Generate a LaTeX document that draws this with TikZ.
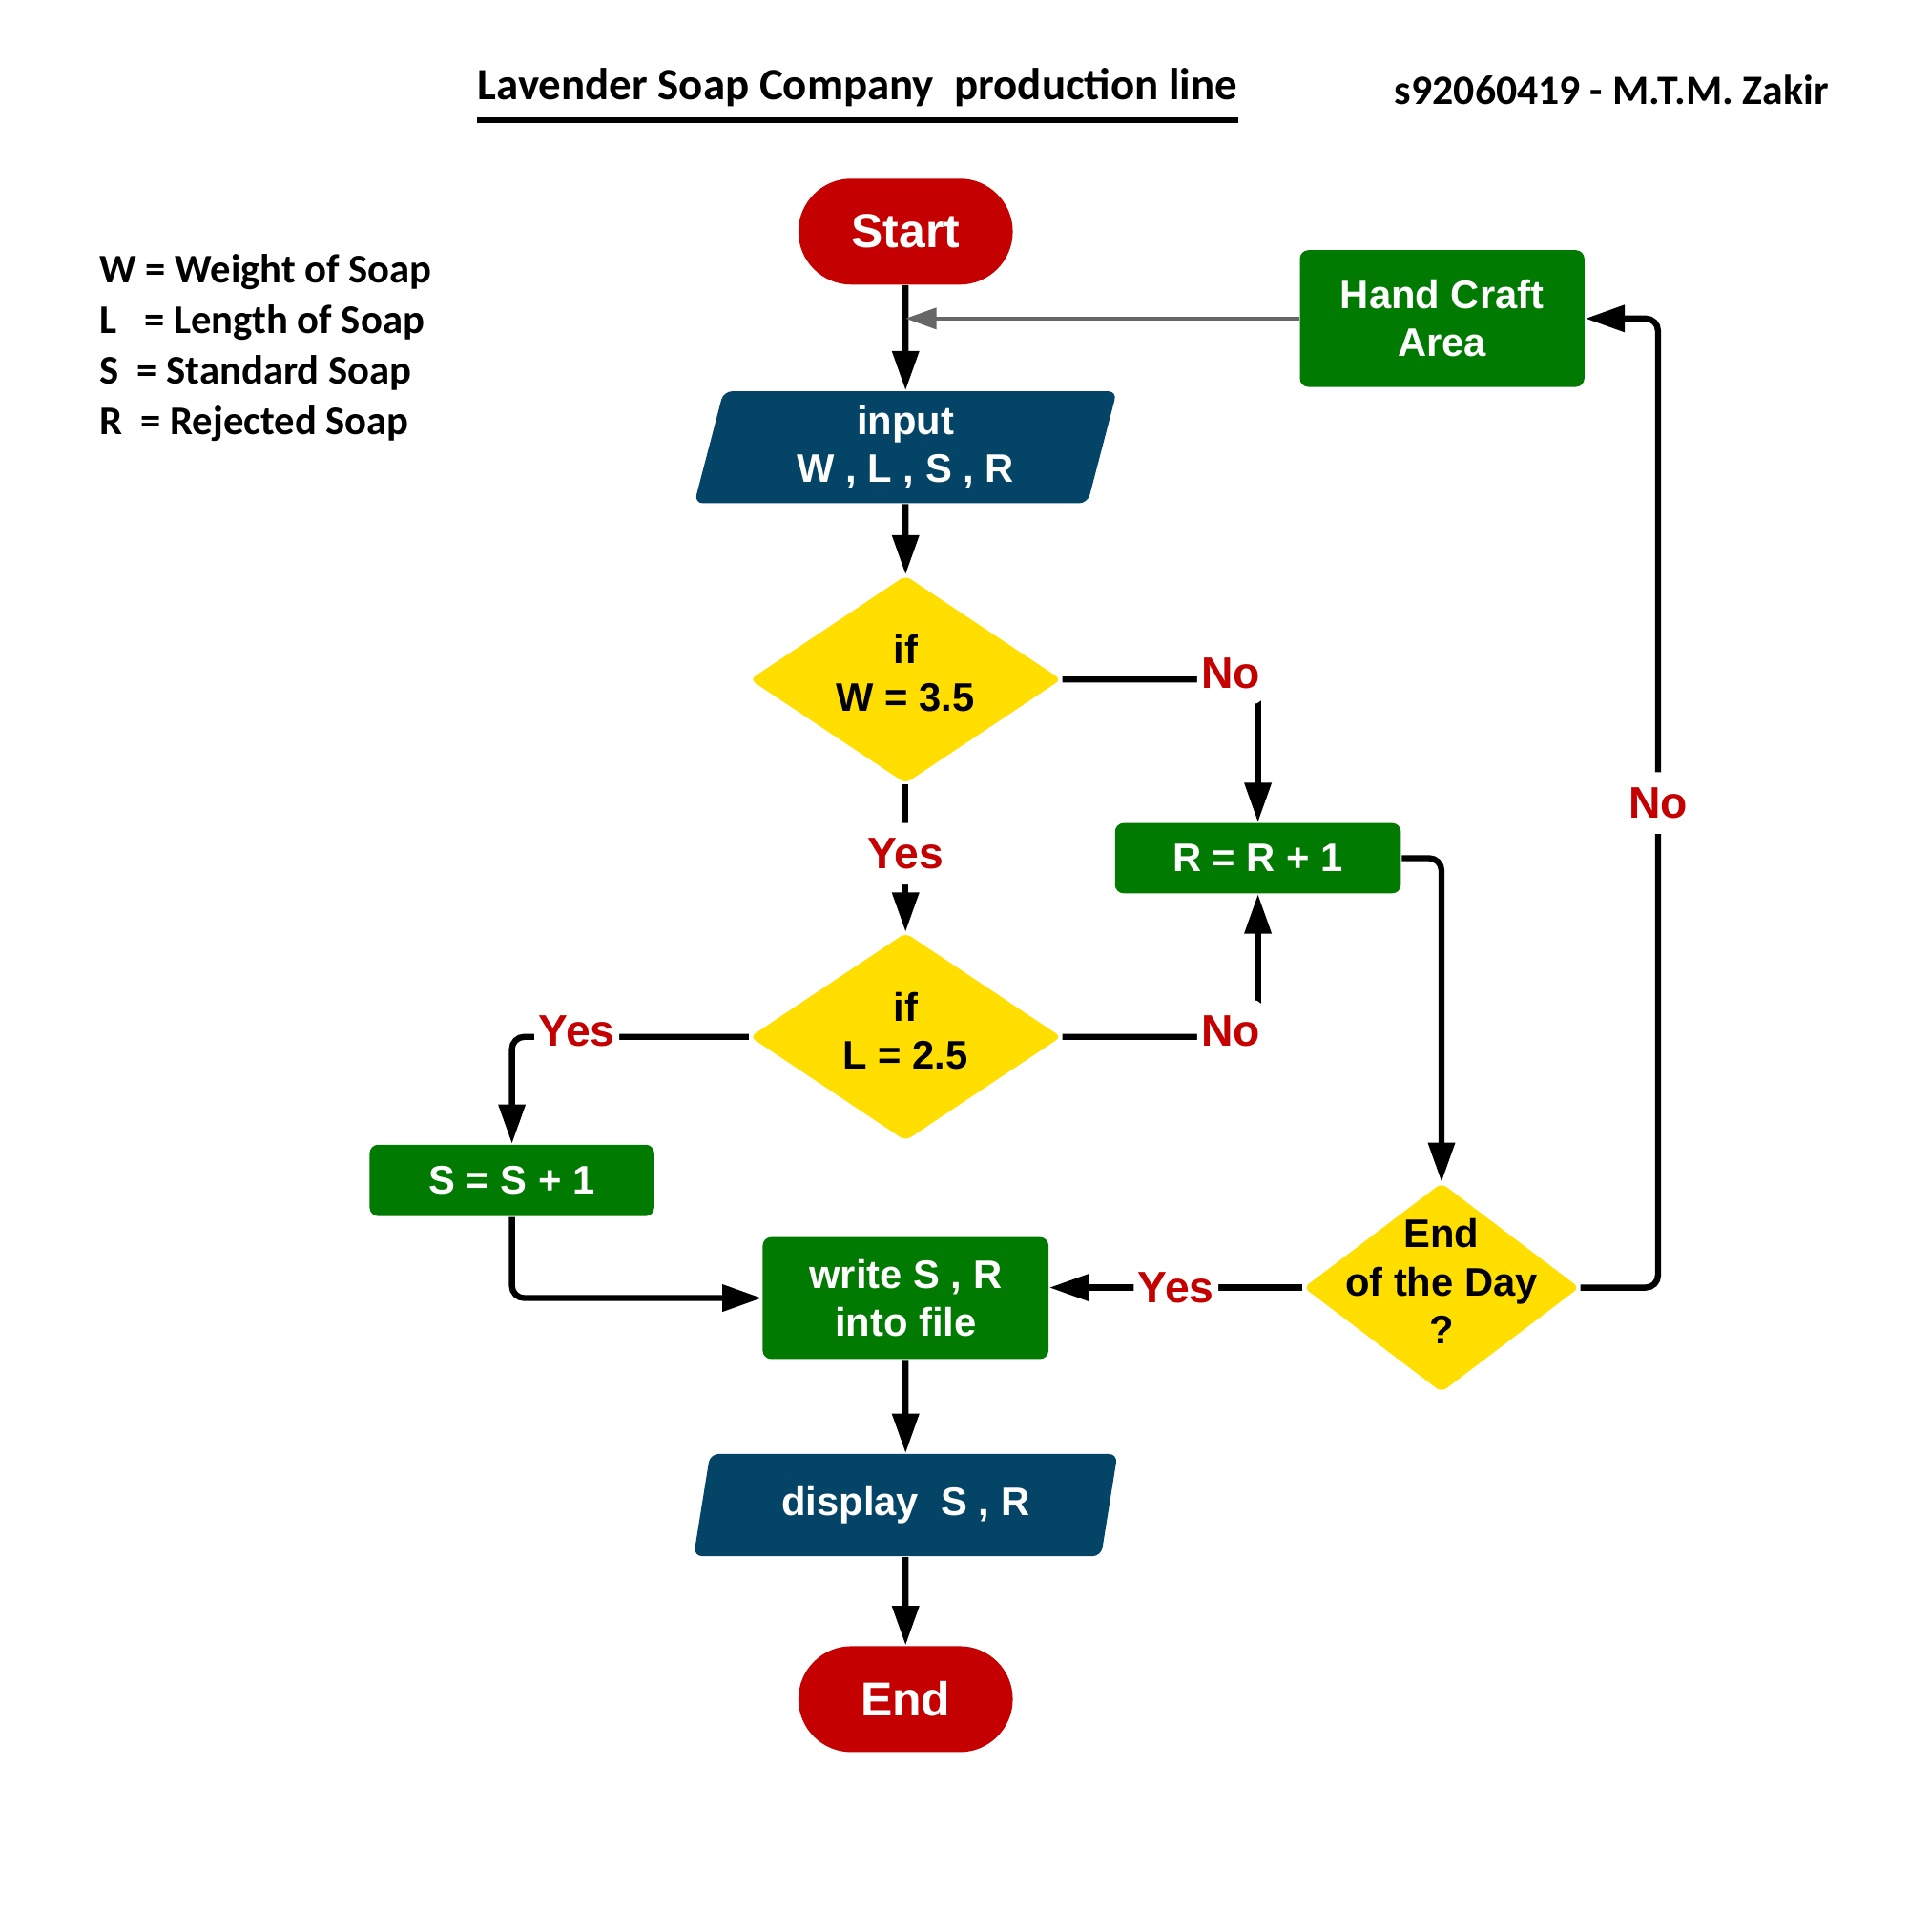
\documentclass[tikz,border=0pt]{standalone}
\usepackage{fontspec}
\setmainfont{Liberation Sans}
\newfontfamily\calibri{Carlito}
\usetikzlibrary{shapes.geometric,arrows.meta}

\definecolor{termred}{RGB}{196,0,0}
\definecolor{procgreen}{RGB}{0,122,0}
\definecolor{ioblue}{RGB}{4,68,102}
\definecolor{decyellow}{RGB}{255,222,0}
\definecolor{backgray}{RGB}{102,102,102}

\tikzset{
  terminal/.style={fill=termred, text=white, rounded corners=0.43cm, minimum width=1.74cm, minimum height=0.86cm, font=\fontsize{11}{13}\selectfont\bfseries},
  process/.style={fill=procgreen, text=white, rounded corners=0.07cm, align=center, font=\fontsize{9.2}{11.1}\selectfont\bfseries},
  io/.style={trapezium, trapezium left angle=80, trapezium right angle=100, trapezium stretches=true, fill=ioblue, text=white, rounded corners=0.07cm, minimum width=3.45cm, minimum height=0.83cm, align=center, font=\fontsize{9.2}{11.1}\selectfont\bfseries},
  decision/.style={diamond, fill=decyellow, rounded corners=0.05cm, minimum width=2.53cm, minimum height=1.69cm, inner sep=0pt},
  dtext/.style={align=center, font=\fontsize{9.2}{11.1}\selectfont\bfseries},
  conn/.style={line width=1.4pt, rounded corners=0.1cm, -{Triangle[length=0.32cm,width=0.21cm]}},
  answer/.style={text=termred, fill=white, inner xsep=1pt, inner ysep=0pt, minimum height=0.5cm, font=\fontsize{10.2}{12}\selectfont\bfseries},
  legend/.style={anchor=west, inner sep=0pt, font=\calibri\fontsize{9.4}{11}\selectfont\bfseries},
}

\begin{document}
\begin{tikzpicture}
  \useasboundingbox (0,0) rectangle (15.65,-15.68);

  \node[inner sep=0pt, font=\calibri\fontsize{10.33}{12}\selectfont\bfseries] (title) at (6.96,-0.71) {Lavender Soap Company~ production line};
  \draw[line width=1.3pt] ([yshift=-0.1cm]title.south west) -- ([yshift=-0.1cm]title.south east);
  \node[inner sep=0pt, font=\calibri\fontsize{9.65}{12}\selectfont\bfseries] (author) at (13.08,-0.73) {s92060419 - M.T.M. Zakir};

  \node[legend] (legw) at (0.80,-2.21) {W = Weight of Soap};
  \node[legend] (legl) at (0.80,-2.62) {L\ \ \ = Length of Soap};
  \node[legend] (legs) at (0.80,-3.03) {S\ \ = Standard Soap};
  \node[legend] (legr) at (0.80,-3.44) {R\ \ = Rejected Soap};

  \node[terminal] (start) at (7.35,-1.88) {Start};
  \node[process, minimum width=2.31cm, minimum height=1.11cm] (hand) at (11.705,-2.585) {Hand Craft\\Area};
  \node[io] (input) at (7.35,-3.63) {input\\W , L , S , R};
  \node[decision] (ifw) at (7.35,-5.515) {};
  \node[dtext] (ifwtext) at ([yshift=0.05cm]ifw) {if\\W = 3.5};
  \node[process, minimum width=2.32cm, minimum height=0.57cm] (rbox) at (10.21,-6.965) {R = R + 1};
  \node[decision] (ifl) at (7.35,-8.415) {};
  \node[dtext] (ifltext) at ([yshift=0.05cm]ifl) {if\\L = 2.5};
  \node[process, minimum width=2.31cm, minimum height=0.58cm] (sbox) at (4.155,-9.58) {S = S + 1};
  \node[decision, minimum width=2.24cm, minimum height=1.70cm] (eod) at (11.70,-10.45) {};
  \node[dtext] (eodtext) at ([yshift=0.05cm]eod) {End\\of the Day\\?};
  \node[process, minimum width=2.32cm, minimum height=0.99cm] (write) at (7.35,-10.535) {write S , R\\into file};
  \node[io] (display) at (7.35,-12.215) {display~ S , R};
  \node[terminal] (stop) at (7.35,-13.79) {End};

  \draw[conn] (start) -- (input);
  \draw[conn] (input) -- (ifw);
  \draw[conn] (ifw) -- node[answer, pos=0.47]{Yes} (ifl);
  \draw[conn] (ifw.east) -| node[answer, pos=0.5, xshift=-0.22cm, yshift=0.05cm]{No} (rbox.north);
  \draw[conn] (ifl.east) -| node[answer, pos=0.5, xshift=-0.22cm, yshift=0.05cm]{No} (rbox.south);
  \draw[conn] (ifl.west) -| node[answer, pos=0.363, yshift=0.05cm]{Yes} (sbox.north);
  \draw[conn] (rbox.east) -| (eod.north);
  \draw[conn] (sbox.south) |- (write.west);
  \draw[conn] (eod.west) -- node[answer]{Yes} (eod.west -| write.east);
  \draw[conn] (eod.east) -- ++(0.63,0) |- node[answer, pos=0.25]{No} (hand.east);
  \draw[line width=0.8pt, backgray, -{Triangle[length=0.25cm,width=0.17cm]}] (hand.west) -- (start |- hand.west);
  \draw[conn] (write) -- (display);
  \draw[conn] (display) -- (stop);
\end{tikzpicture}
\end{document}
